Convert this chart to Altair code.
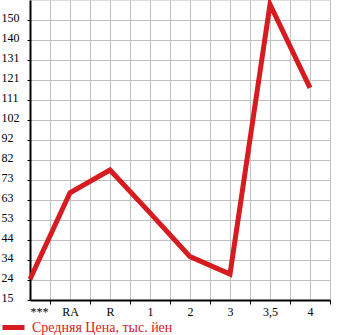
import altair as alt
import pandas as pd

categories = ["***", "RA", "R", "1", "2", "3", "3,5", "4"]
prices = [25.0, 66.7, 77.7, 57.0, 35.9, 27.5, 157.5, 117.3]
y_labels = ["15", "24", "34", "44", "53", "63", "73", "82", "92", "102", "111", "121", "131", "140", "150"]
series_name = "Средняя Цена, тыс. йен"

RED = "#d61c20"
step = 135 / 14
ymin = 15
ymax = 15 + 15 * step

df = pd.DataFrame({
    "idx": list(range(len(categories))),
    "cat": categories,
    "price": prices,
    "series": [series_name] * len(categories),
})

cat_js = "[" + ",".join("'" + c + "'" for c in categories) + "]"
ylab_js = "[" + ",".join("'" + c + "'" for c in y_labels) + "]"

x_vals = [i * 0.5 for i in range(0, 16)]
y_vals = [ymin + k * step for k in range(0, 15)]

FONT = "Liberation Serif"

chart = alt.Chart(df).mark_line(strokeWidth=5, strokeJoin="miter", strokeCap="butt").encode(
    x=alt.X("idx:Q", scale=alt.Scale(domain=[0, 7.5], nice=False, zero=False),
            axis=alt.Axis(values=x_vals, title=None, grid=True, gridColor="#c0c0c0", gridWidth=1,
                          domainColor="black", domainWidth=2,
                          tickColor="black", tickSize=4, tickWidth=1,
                          tickOpacity={"condition": {"test": "datum.value % 1 != 0", "value": 1}, "value": 0},
                          labelExpr=f"datum.value % 1 == 0 ? {cat_js}[datum.value] : ''",
                          labelFont=FONT, labelFontSize=12, labelColor="black", labelPadding=2,
                          labelAngle=0)),
    y=alt.Y("price:Q", scale=alt.Scale(domain=[ymin, ymax], nice=False, zero=False),
            axis=alt.Axis(values=y_vals, title=None, grid=True, gridColor="#c0c0c0", gridWidth=1,
                          domainColor="black", domainWidth=2,
                          tickColor="black", tickSize=3, tickWidth=1,
                          labelExpr=f"{ylab_js}[round((datum.value - 15) / {step})]",
                          labelFont=FONT, labelFontSize=12, labelColor="black", labelPadding=26,
                          labelAlign="left", labelOffset=-3)),
    color=alt.Color("series:N", scale=alt.Scale(range=[RED]),
                    legend=alt.Legend(title=None, orient="none", legendX=-30, legendY=314,
                                      symbolType="stroke", symbolSize=484, symbolStrokeWidth=5,
                                      labelColor=RED, labelFont=FONT, labelFontSize=14,
                                      padding=0, labelOffset=5)),
).properties(
    width=300, height=300,
    autosize=alt.AutoSizeParams(type="none"),
    padding={"left": 30, "top": 0, "right": 15, "bottom": 35},
).configure_view(
    fill="#f7f7f7", stroke=None
).configure(background="white")

chart.save("out.html", embed_options={"renderer": "svg", "actions": False})
